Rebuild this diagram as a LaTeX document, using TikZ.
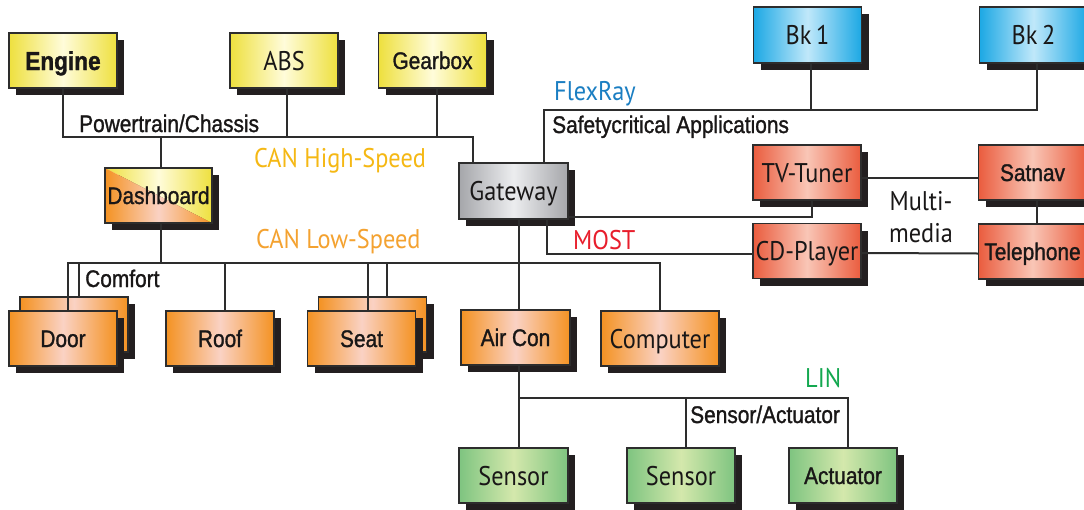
\documentclass[tikz,border=0pt]{standalone}
\usepackage{fontspec}
\usetikzlibrary{shadows}
\newfontfamily\cond[FakeStretch=0.87,FakeBold=1.2]{Liberation Sans}
\newfontfamily\hum[FakeStretch=0.9]{PT Sans}
\definecolor{yeE}{RGB}{238,224,62}
\definecolor{yeM}{RGB}{255,252,218}
\definecolor{orE}{RGB}{244,146,34}
\definecolor{orM}{RGB}{250,210,196}
\definecolor{rdE}{RGB}{234,92,62}
\definecolor{rdM}{RGB}{249,198,182}
\definecolor{blE}{RGB}{28,168,228}
\definecolor{blM}{RGB}{192,232,250}
\definecolor{grE}{RGB}{126,196,128}
\definecolor{grM}{RGB}{212,232,172}
\definecolor{gyE}{RGB}{165,166,170}
\definecolor{gyM}{RGB}{236,237,239}
\definecolor{bordc}{RGB}{45,45,45}
\definecolor{shadc}{RGB}{35,31,32}
\definecolor{txtc}{RGB}{25,23,23}
\definecolor{hsc}{RGB}{245,184,20}
\definecolor{lsc}{RGB}{244,162,48}
\definecolor{frc}{RGB}{26,126,194}
\definecolor{mostc}{RGB}{232,30,44}
\definecolor{linc}{RGB}{20,168,80}
\tikzset{
  box/.style={draw=bordc, line width=1.5pt, minimum width=108pt, minimum height=55pt,
    inner sep=0pt, text=txtc,
    drop shadow={shadow xshift=7pt, shadow yshift=-7pt, fill=shadc, opacity=1}},
  yel/.style={left color=yeE, right color=yeE, middle color=yeM},
  ora/.style={left color=orE, right color=orE, middle color=orM},
  red/.style={left color=rdE, right color=rdE, middle color=rdM},
  blu/.style={left color=blE, right color=blE, middle color=blM},
  grn/.style={left color=grE, right color=grE, middle color=grM},
  gry/.style={left color=gyE, right color=gyE, middle color=gyM},
  dashfill/.style={path picture={
    \path[yel] (path picture bounding box.north west) -- (path picture bounding box.north east)
      -- (path picture bounding box.south east) -- cycle;
    \path[ora] (path picture bounding box.north west) -- (path picture bounding box.south west)
      -- (path picture bounding box.south east) -- cycle;}},
  hlab/.style={font=\hum\fontsize{27}{30}\selectfont, text height=19pt, text depth=0pt},
  clab/.style={font=\cond\fontsize{24}{28}\selectfont, text height=17pt, text depth=0pt},
  cbold/.style={font=\cond\bfseries\fontsize{26}{30}\selectfont, text height=19pt, text depth=0pt},
  bus/.style={draw=bordc, line width=2pt},
  lbl/.style={inner sep=0pt, anchor=base west},
}
\begin{document}
\begin{tikzpicture}[x=1pt,y=-1pt]
\clip (0,0) rectangle (1084,509);
\fill[white] (0,0) rectangle (1084,509);

% ---- boxes ----
\node[box,yel,cbold] (engine) at (63,60.5) {Engine};
\node[box,yel,hlab] (abs) at (284,60.5) {ABS};
\node[box,yel,clab] (gear) at (432.5,60.5) {Gearbox};
\node[box,dashfill,clab,minimum width=107pt] (dash) at (158.5,195.5) {Dashboard};
\node[box,gry,hlab,minimum width=109pt,minimum height=56pt] (gw) at (513.5,191) {Gateway};
\node[box,blu,hlab,minimum height=56pt] (bk1) at (807.5,35) {Bk\,1};
\node[box,blu,hlab,minimum height=56pt] (bk2) at (1033.5,35) {Bk\,2};
\node[box,red,hlab] (tv) at (807,172.5) {TV-Tuner};
\node[box,red,clab] (sat) at (1032.5,172.5) {Satnav};
\node[box,red,hlab] (cd) at (807,251) {CD-Player};
\node[box,red,clab] (tel) at (1032.5,251.5) {Telephone};
\node[box,ora] (doorb) at (74,324.5) {};
\node[box,ora,clab] (doorf) at (63,338.5) {Door};
\node[box,ora,clab] (roof) at (220,338.5) {Roof};
\node[box,ora] (seatb) at (372.5,324.5) {};
\node[box,ora,clab] (seatf) at (361.5,338.5) {Seat};
\node[box,ora,clab,minimum width=109pt] (air) at (515.5,337.5) {Air Con};
\node[box,ora,hlab,minimum width=118pt] (comp) at (660,338.5) {Computer};
\node[box,grn,hlab,minimum width=109pt] (s1) at (513.5,475.5) {Sensor};
\node[box,grn,hlab] (s2) at (681,475.5) {Sensor};
\node[box,grn,clab] (act) at (843,475.5) {Actuator};

% ---- bus reference heights ----
\coordinate (hs) at (0,137);
\coordinate (fr) at (0,110);
\coordinate (ls) at (0,262.5);
\coordinate (lin) at (0,398);

% CAN High-Speed
\draw[bus] (engine.south) -- (engine.south |- hs) -| ([xshift=-40.5pt]gw.north);
\draw[bus] ([xshift=3pt]abs.south) -- ([xshift=3pt]abs.south |- hs);
\draw[bus] ([xshift=4.5pt]gear.south) -- ([xshift=4.5pt]gear.south |- hs);
\draw[bus] ([xshift=2.5pt]dash.north) -- ([xshift=2.5pt]dash.north |- hs);

% FlexRay
\draw[bus] ([xshift=30.5pt]gw.north) |- ([xshift=3pt]bk2.south |- fr) -- ([xshift=3pt]bk2.south);
\draw[bus] ([xshift=3.5pt]bk1.south) -- ([xshift=3.5pt]bk1.south |- fr);

% MOST
\draw[bus] ([yshift=-26pt]gw.east) -| ([xshift=5pt]tv.south);
\draw[bus] ([xshift=33.5pt]gw.south) |- ([yshift=-3pt]cd.west);
\draw[bus] ([yshift=-5.5pt]tv.east) -- ([yshift=-5.5pt]sat.west);
\draw[bus] ([yshift=-2pt]cd.east) -- ([yshift=-2pt]tel.west);
\draw[bus] ([xshift=4.5pt]sat.south) -- ([xshift=4.5pt]tel.north);

% CAN Low-Speed
\draw[bus] ([xshift=2.5pt]dash.south) -- ([xshift=2.5pt]dash.south |- ls);
\draw[bus] ([xshift=5pt]doorf.north) |- (comp.north |- ls) -- (comp.north);
\draw[bus] ([xshift=4.5pt]doorb.north) -- ([xshift=4.5pt]doorb.north |- ls);
\draw[bus] ([xshift=4.5pt]roof.north) -- ([xshift=4.5pt]roof.north |- ls);
\draw[bus] ([xshift=6.5pt]seatf.north) -- ([xshift=6.5pt]seatf.north |- ls);
\draw[bus] ([xshift=14pt]seatb.north) -- ([xshift=14pt]seatb.north |- ls);
\draw[bus] ([xshift=3.5pt]air.north |- gw.south) -- ([xshift=3.5pt]air.north);

% LIN
\draw[bus] ([xshift=3.5pt]air.south) -- ([xshift=3.5pt]air.south |- s1.north);
\draw[bus] ([xshift=3.5pt]air.south |- lin) -| ([xshift=4.5pt]act.north);
\draw[bus] ([xshift=5pt]s2.north) -- ([xshift=5pt]s2.north |- lin);

% ---- labels ----
\node[lbl,font=\cond\fontsize{24}{28}\selectfont,text=txtc] (lpt) at (79,132) {Powertrain/Chassis};
\node[lbl,font=\hum\fontsize{27}{30}\selectfont,text=hsc] (lhs) at (254,167) {CAN High-Speed};
\node[lbl,font=\hum\fontsize{27}{30}\selectfont,text=lsc] (lls) at (256,248) {CAN Low-Speed};
\node[lbl,font=\hum\fontsize{27}{30}\selectfont,text=frc] (lfr) at (554,100) {FlexRay};
\node[lbl,font=\cond\fontsize{24}{28}\selectfont,text=txtc] (lsa) at (552,133) {Safetycritical Applications};
\node[lbl,font=\hum\fontsize{27}{30}\selectfont,text=mostc] (lmo) at (573,249) {MOST};
\node[lbl,font=\cond\fontsize{24}{28}\selectfont,text=txtc] (lco) at (85,287) {Comfort};
\node[inner sep=0pt,anchor=base,font=\hum\fontsize{27}{30}\selectfont,text=txtc] (lm1) at (921,210) {Multi-};
\node[inner sep=0pt,anchor=base,font=\hum\fontsize{27}{30}\selectfont,text=txtc] (lm2) at (921,242) {media};
\node[lbl,font=\hum\fontsize{27}{30}\selectfont,text=linc] (lli) at (805,387) {LIN};
\node[lbl,font=\cond\fontsize{24}{28}\selectfont,text=txtc] (lse) at (690,423) {Sensor/Actuator};
\end{tikzpicture}
\end{document}
